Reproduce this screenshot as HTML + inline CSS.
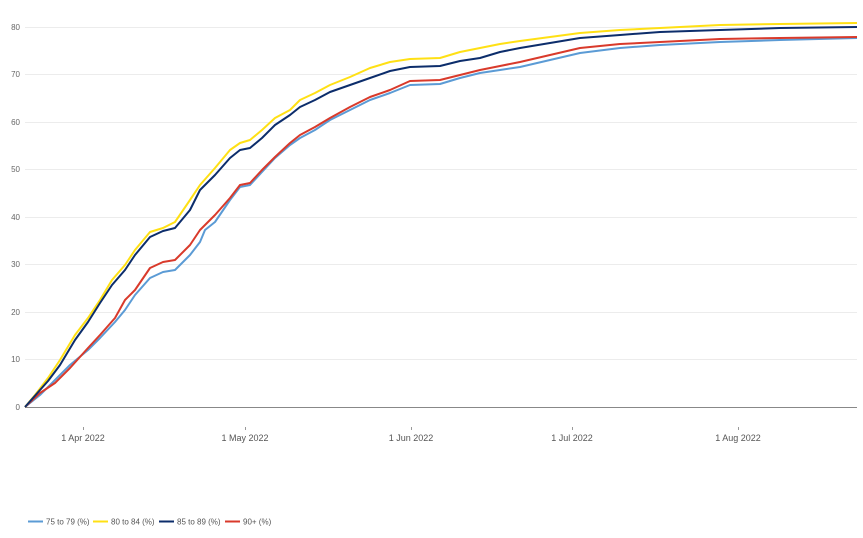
<!DOCTYPE html>
<html><head><style>body{margin:0;background:#fff;font-family:"Liberation Sans",sans-serif}</style></head>
<body>
<svg width="863" height="533" xmlns="http://www.w3.org/2000/svg" font-family="Liberation Sans, sans-serif">
<g stroke="#ececec" stroke-width="1">
<line x1="25" x2="857" y1="27.5" y2="27.5"/><line x1="25" x2="857" y1="74.5" y2="74.5"/><line x1="25" x2="857" y1="122.5" y2="122.5"/><line x1="25" x2="857" y1="169.5" y2="169.5"/><line x1="25" x2="857" y1="217.5" y2="217.5"/><line x1="25" x2="857" y1="264.5" y2="264.5"/><line x1="25" x2="857" y1="312.5" y2="312.5"/><line x1="25" x2="857" y1="359.5" y2="359.5"/>
</g>
<line x1="25" x2="857" y1="407.5" y2="407.5" stroke="#888"/>
<g font-size="8" fill="#666" text-anchor="end">
<text x="20" y="30">80</text><text x="20" y="77">70</text><text x="20" y="125">60</text><text x="20" y="172">50</text><text x="20" y="220">40</text><text x="20" y="267">30</text><text x="20" y="315">20</text><text x="20" y="362">10</text><text x="20" y="410">0</text>
</g>
<g stroke="#999"><line x1="83.5" x2="83.5" y1="427" y2="430"/><line x1="245.5" x2="245.5" y1="427" y2="430"/><line x1="411.5" x2="411.5" y1="427" y2="430"/><line x1="572.5" x2="572.5" y1="427" y2="430"/><line x1="738.5" x2="738.5" y1="427" y2="430"/></g>
<g font-size="9" fill="#555" text-anchor="middle">
<text x="83" y="441">1 Apr 2022</text><text x="245" y="441">1 May 2022</text><text x="411" y="441">1 Jun 2022</text><text x="572" y="441">1 Jul 2022</text><text x="738" y="441">1 Aug 2022</text>
</g>
<g fill="none" stroke-width="2" stroke-linejoin="round">
<polyline stroke="#5b9bd5" points="25,407 40,395 55,380 70,365 88,350 100,338 115,322 125,310 135,295 150,278 163,272 175,270 190,255 200,242 205,230 215,222 230,200 240,187 250,185 262,172 275,158 290,145 300,138 315,130 330,120 350,110 370,100 390,93 410,85 440,84 460,78 480,73 500,70 520,67 550,60 580,53 620,48 660,45 720,42 780,40 857,38"/>
<polyline stroke="#d93a2b" points="25,407 40,393 55,383 70,368 88,348 100,335 115,318 125,300 135,290 150,268 163,262 175,260 190,245 200,230 205,225 215,215 230,198 240,185 250,183 262,170 275,157 290,143 300,135 315,127 330,118 350,107 370,97 390,90 410,81 440,80 460,75 480,70 500,66 520,62 550,55 580,48 620,44 660,42 720,39 780,38 857,37"/>
<polyline stroke="#ffe014" points="25,407 35,395 48,378 60,360 75,335 88,318 100,300 112,280 125,265 135,250 150,232 163,228 175,222 190,200 200,185 215,168 230,150 240,143 250,140 262,130 275,118 290,110 300,100 315,93 330,85 350,77 370,68 390,62 410,59 440,58 460,52 480,48 500,44 520,41 550,37 580,33 620,30 660,28 720,25 780,24 857,23"/>
<polyline stroke="#0c2d6b" points="25,407 48,381 60,365 75,340 88,322 100,303 112,285 125,270 135,255 150,237 163,231 175,228 190,210 200,190 215,175 230,158 240,150 250,148 262,138 275,125 290,115 300,107 315,100 330,92 350,85 370,78 390,71 410,67 440,66 460,61 480,58 500,52 520,48 550,43 580,38 620,35 660,32 720,30 780,28 857,27"/>
</g>
<g font-size="8" fill="#555">
<line x1="28" x2="43" y1="521.5" y2="521.5" stroke="#5b9bd5" stroke-width="2"/><text x="46" y="524.5">75 to 79 (%)</text>
<line x1="93" x2="108" y1="521.5" y2="521.5" stroke="#ffe014" stroke-width="2"/><text x="111" y="524.5">80 to 84 (%)</text>
<line x1="159" x2="174" y1="521.5" y2="521.5" stroke="#0c2d6b" stroke-width="2"/><text x="177" y="524.5">85 to 89 (%)</text>
<line x1="225" x2="240" y1="521.5" y2="521.5" stroke="#d93a2b" stroke-width="2"/><text x="243" y="524.5">90+ (%)</text>
</g>
</svg>
</body></html>
